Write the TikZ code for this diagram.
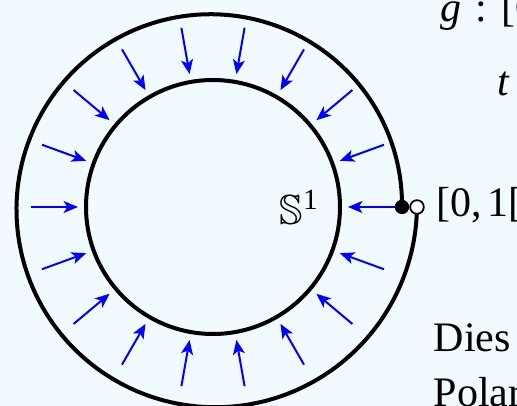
\documentclass[tikz,border=0pt]{standalone}
\usepackage{fontspec}
\setmainfont{Liberation Serif}
\usepackage{amssymb}
\usetikzlibrary{arrows.meta}
\definecolor{folienblau}{RGB}{240,250,255}
\definecolor{feldblau}{RGB}{0,0,255}
\tikzset{
  feldpfeil/.style={draw=feldblau,line width=0.5pt,-{Stealth[length=3.6pt,width=3pt,inset=0.9pt]}},
  punktvoll/.style={circle,fill=black,inner sep=0pt,minimum size=3.6pt},
  punktleer/.style={circle,draw=black,fill=white,line width=0.45pt,inner sep=0pt,minimum size=3.4pt},
  beschrift/.style={anchor=base west,inner sep=0pt,font=\fontsize{10.5}{12}\selectfont}
}
\begin{document}
\begin{tikzpicture}[x=0.25pt,y=0.25pt]
        \def\rinnen{127}
        \def\raussen{189}
        % Hintergrund
        \useasboundingbox[fill=folienblau] (-213,-199) rectangle (304,207);
        \clip (-213,-199) rectangle (304,207);
        % Innerer Kreis
        \draw[line width=1pt] (0,0) circle[radius=\rinnen];
        % Spirale (Bild von g)
        \draw[line width=1pt] plot[domain=0:360,samples=145,smooth] (\x:{\raussen+15*\x/360});
        % Pfeile nach innen
        \foreach \w in {0,20,...,340}
          \draw[feldpfeil] (\w:182) -- (\w:135);
        % Anfangs- und Endpunkt
        \node[punktvoll] (anfang) at (0:\raussen) {};
        \node[punktleer] (ende) at (0:{\raussen+15}) {};
        % Texte
        \node[beschrift] (kreis) at (66,-18) {$\mathbb{S}$\textsuperscript{1}};
        \node[beschrift] (abb) at (227,185) {\textit{g}\hspace{3.5pt}:\hspace{3.5pt}[0};
        \node[beschrift] (var) at (284,111) {\textit{t}};
        \node[beschrift] (intervall) at (223,-10) {[0,\hspace{1.2pt}1[};
        \node[beschrift] (dies) at (220,-145) {Dies};
        \node[beschrift] (polar) at (220,-200) {Polar};
      \end{tikzpicture}
\end{document}
